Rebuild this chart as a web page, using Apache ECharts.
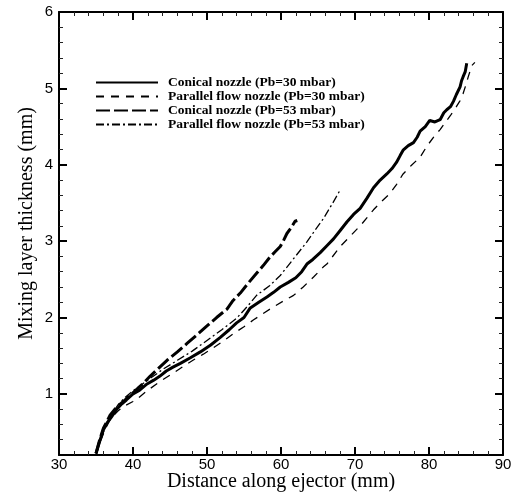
<!DOCTYPE html>
<html><head><meta charset="utf-8">
<script src="https://cdn.jsdelivr.net/npm/echarts@6/dist/echarts.min.js"></script>
<style>html,body{margin:0;padding:0;background:#fff}#c{width:514px;height:495px}</style>
</head><body><div id="c"></div>
<script>
var seriesNames = ['Conical nozzle (Pb=30 mbar)','Parallel flow nozzle (Pb=30 mbar)','Conical nozzle (Pb=53 mbar)','Parallel flow nozzle (Pb=53 mbar)'];
var xTicks = [30,40,50,60,70,80,90];
var yTicks = [1,2,3,4,5,6];
var yMinorTicks = [0.4,0.6,0.8,1.2,1.4,1.6,1.8,2.2,2.4,2.6,2.8,3.2,3.4,3.6,3.8,4.2,4.4,4.6,4.8,5.2,5.4,5.6,5.8];
var conical30 = [[35.0,0.22],[35.5,0.38],[36.0,0.53],[36.5,0.62],[37.1,0.70],[37.8,0.80],[38.5,0.87],[39.1,0.92],[40.0,1.00],[40.9,1.05],[41.9,1.13],[42.8,1.18],[43.6,1.23],[44.5,1.30],[45.4,1.35],[46.4,1.40],[47.7,1.47],[49.1,1.55],[50.5,1.64],[51.8,1.74],[53.0,1.84],[54.0,1.93],[55.0,2.00],[55.8,2.12],[57.0,2.20],[58.1,2.27],[59.0,2.33],[59.9,2.40],[61.0,2.46],[62.0,2.52],[62.8,2.60],[63.5,2.70],[64.3,2.76],[65.3,2.85],[66.2,2.94],[67.1,3.03],[68.0,3.14],[68.9,3.25],[69.8,3.35],[70.7,3.43],[71.6,3.56],[72.5,3.70],[73.4,3.80],[74.3,3.88],[75.0,3.95],[75.6,4.03],[76.1,4.12],[76.5,4.19],[77.2,4.25],[77.9,4.29],[78.4,4.36],[78.8,4.44],[79.5,4.50],[80.1,4.58],[80.8,4.56],[81.5,4.59],[82.0,4.68],[82.4,4.72],[82.9,4.76],[83.3,4.83],[83.7,4.92],[84.2,5.02],[84.4,5.10],[84.6,5.15],[84.9,5.22],[85.1,5.33]];
var parallel30 = [[35.0,0.20],[35.6,0.38],[36.3,0.55],[37.0,0.68],[38.0,0.78],[39.0,0.85],[40.0,0.90],[40.5,0.93],[41.9,1.04],[43.6,1.16],[45.4,1.27],[46.8,1.36],[48.1,1.44],[49.5,1.52],[50.8,1.60],[52.2,1.69],[53.6,1.79],[55.0,1.88],[56.3,1.97],[57.7,2.06],[59.0,2.14],[60.4,2.22],[61.7,2.29],[63.0,2.40],[64.4,2.53],[65.7,2.66],[66.2,2.70],[68.0,2.93],[69.3,3.06],[70.7,3.20],[72.5,3.41],[73.6,3.52],[74.7,3.62],[75.6,3.74],[76.5,3.88],[77.6,3.99],[78.8,4.10],[79.7,4.24],[80.6,4.36],[81.5,4.46],[82.4,4.58],[83.0,4.66],[83.7,4.76],[84.2,4.84],[84.6,4.93],[85.0,5.05],[85.3,5.15],[85.8,5.30],[86.2,5.34]];
var conical53 = [[35.0,0.22],[35.5,0.40],[36.0,0.55],[36.9,0.72],[37.8,0.83],[38.7,0.90],[39.6,0.98],[40.5,1.06],[41.4,1.14],[42.3,1.23],[43.4,1.33],[44.6,1.44],[46.0,1.55],[47.3,1.66],[48.6,1.77],[50.0,1.89],[51.3,2.00],[52.7,2.11],[53.5,2.22],[54.5,2.32],[55.4,2.43],[56.7,2.58],[57.6,2.68],[58.5,2.79],[59.2,2.86],[59.9,2.93],[60.4,3.02],[60.8,3.10],[61.4,3.18],[61.9,3.26],[62.2,3.27]];
var parallel53 = [[35.0,0.22],[36.0,0.50],[37.0,0.72],[38.0,0.86],[39.0,0.96],[40.0,1.04],[42.0,1.18],[44.0,1.32],[46.0,1.44],[48.0,1.56],[50.0,1.70],[52.0,1.84],[54.0,1.99],[55.5,2.15],[56.7,2.29],[58.5,2.42],[59.9,2.55],[61.7,2.77],[63.5,2.99],[64.8,3.17],[65.7,3.29],[67.0,3.50],[68.0,3.67]];

var chart = echarts.init(document.getElementById('c'));
var black = '#000';
function xAx(pos, labels){
  return {type:'value', min:30, max:90, interval:10, position:pos,
    axisLine:{show:true, lineStyle:{color:black, width:2}},
    axisTick:{show:true, inside:true, length:8, lineStyle:{color:black, width:2}},
    minorTick:{show:true, splitNumber:5, length:4, lineStyle:{color:'#222', width:1}},
    axisLabel:{show:labels, color:black, fontFamily:'Liberation Sans', fontSize:15, margin:2},
    splitLine:{show:false}, minorSplitLine:{show:false},
    name: labels ? 'Distance along ejector (mm)' : '', nameLocation:'middle', nameGap:17, nameMoveOverlap:false,
    nameTextStyle:{color:black, fontFamily:'Liberation Serif', fontSize:20}};
}
function yAx(pos, major, labels){
  return {type:'value', min:0.2, max:6, position:pos,
    axisLine:{show:major, lineStyle:{color:black, width:2}},
    axisTick:{show:true, inside:true, length: major?8:4, customValues: major?yTicks:yMinorTicks, lineStyle:{color: major?black:'#222', width: major?2:1}},
    axisLabel:{show:labels, customValues:yTicks, color:black, fontFamily:'Liberation Sans', fontSize:15, margin:6},
    splitLine:{show:false},
    name: labels ? 'Mixing layer thickness (mm)' : '', nameLocation:'middle', nameGap:22, nameMoveOverlap:false,
    nameTextStyle:{color:black, fontFamily:'Liberation Serif', fontSize:20, padding:[0,0,0,20]}};
}
chart.setOption({
  animation:false,
  backgroundColor:'#fff',
  color:[black,black,black,black],
  grid:{left:59, right:11, top:12, bottom:40, containLabel:false, outerBoundsMode:'none'},
  legend:{orient:'vertical', left:95, top:75.5, padding:0, itemWidth:62, itemHeight:14, itemGap:0,
    itemStyle:{opacity:0},
    textStyle:{fontFamily:'Liberation Serif', fontWeight:'bold', fontSize:13.5, lineHeight:14, color:black, padding:[0,0,0,5]},
    data:seriesNames},
  xAxis:[xAx('bottom', true), xAx('top', false)],
  yAxis:[yAx('left', true, true), yAx('left', false, false), yAx('right', true, false), yAx('right', false, false)],
  series:[
    {name:seriesNames[0], type:'line', data:conical30, showSymbol:false, symbol:'none', lineStyle:{color:black, width:3, type:'solid'}},
    {name:seriesNames[1], type:'line', data:parallel30, showSymbol:false, symbol:'none', lineStyle:{color:black, width:1.3, type:[8,7]}},
    {name:seriesNames[2], type:'line', data:conical53, showSymbol:false, symbol:'none', lineStyle:{color:black, width:3, type:[14,4]}},
    {name:seriesNames[3], type:'line', data:parallel53, showSymbol:false, symbol:'none', lineStyle:{color:black, width:1.3, type:[8,3,2,3]}}
  ]
});
</script></body></html>
